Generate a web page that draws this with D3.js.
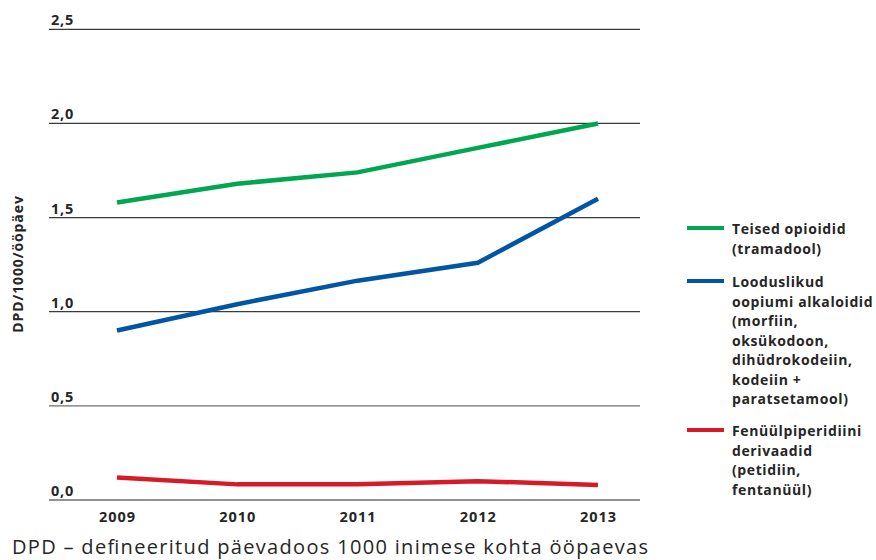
<!DOCTYPE html>
<html><head><meta charset="utf-8">
<script src="https://cdn.jsdelivr.net/npm/d3@7"></script>
<style>
body{margin:0;background:#fff;}
svg{display:block;font-family:"Open Sans",Lato,sans-serif;}
</style></head>
<body><svg id="c" width="876" height="560"></svg>
<script>
const years = ["2009","2010","2011","2012","2013"];
const yTicks = [0, 0.5, 1.0, 1.5, 2.0, 2.5];
const yTickLabels = ["0,0","0,5","1,0","1,5","2,0","2,5"];
const teised = [1.58, 1.68, 1.74, 1.87, 2.0];
const looduslikud = [0.90, 1.04, 1.165, 1.26, 1.60];
const fenuul = [0.12, 0.083, 0.083, 0.10, 0.08];
const seriesNames = [
  ["Teised opioidid","(tramadool)"],
  ["Looduslikud","oopiumi alkaloidid","(morfiin,","oksükodoon,","dihüdrokodeiin,","kodeiin +","paratsetamool)"],
  ["Fenüülpiperidiini","derivaadid","(petidiin,","fentanüül)"]
];
const colors = ["#00a650","#0055a5","#d71a28"];
const yTitle = "DPD/1000/ööpäev";
const footnote = "DPD – defineeritud päevadoos 1000 inimese kohta ööpaevas";

const svg = d3.select("#c");
const x = d3.scalePoint().domain(years).range([117, 598]).padding(0);
const y = d3.scaleLinear().domain([0, 2.5]).range([500, 29.3]);
const gridX0 = 49, gridX1 = 640;

// grid + tick labels
const g = svg.append("g");
yTicks.forEach((t, i) => {
  g.append("line").attr("x1", gridX0).attr("x2", gridX1)
    .attr("y1", y(t)).attr("y2", y(t))
    .attr("stroke", t <= 0.5 ? "#6e6e6e" : "#3a3a3a").attr("stroke-width", 1.3);
  g.append("text").attr("x", 51).attr("y", y(t) - 4)
    .attr("font-size", 14.5).attr("font-weight", 700).attr("fill", "#262626")
    .attr("letter-spacing", 0.8)
    .text(yTickLabels[i]);
});

// x labels
const xAxis = d3.axisBottom(x).tickSize(0).tickPadding(0);
const xa = svg.append("g").attr("transform", "translate(0,522)").call(xAxis);
xa.select(".domain").remove();
xa.selectAll("text").attr("font-size", 14.5).attr("font-weight", 700)
  .attr("fill", "#262626").attr("font-family", "'Open Sans',Lato,sans-serif")
  .attr("letter-spacing", 1).attr("dy", 0);

// y title
svg.append("text").attr("transform", "translate(23,264) rotate(-90)")
  .attr("text-anchor", "middle").attr("font-size", 14).attr("font-weight", 700)
  .attr("fill", "#262626").attr("letter-spacing", 0.9).text(yTitle);

// lines
const line = d3.line().x((d, i) => x(years[i])).y(d => y(d));
[teised, looduslikud, fenuul].forEach((s, i) => {
  svg.append("path").datum(s).attr("d", line).attr("fill", "none")
    .attr("stroke", colors[i]).attr("stroke-width", 4.5);
});

// legend
const legTop = [228, 281, 430];
seriesNames.forEach((lines, i) => {
  svg.append("line").attr("x1", 687).attr("x2", 724)
    .attr("y1", legTop[i]).attr("y2", legTop[i])
    .attr("stroke", colors[i]).attr("stroke-width", 4);
  const t = svg.append("text").attr("x", 732).attr("y", legTop[i] + 6)
    .attr("font-size", 14).attr("font-weight", 700).attr("fill", "#262626")
    .attr("letter-spacing", 0.6);
  lines.forEach((l, j) => {
    t.append("tspan").attr("x", 732).attr("dy", j === 0 ? 0 : 19.5).text(l);
  });
});

// footnote
svg.append("text").attr("x", 12).attr("y", 554).attr("font-size", 20)
  .attr("fill", "#262626").attr("textLength", 636).attr("lengthAdjust", "spacing")
  .text(footnote);
</script></body></html>
